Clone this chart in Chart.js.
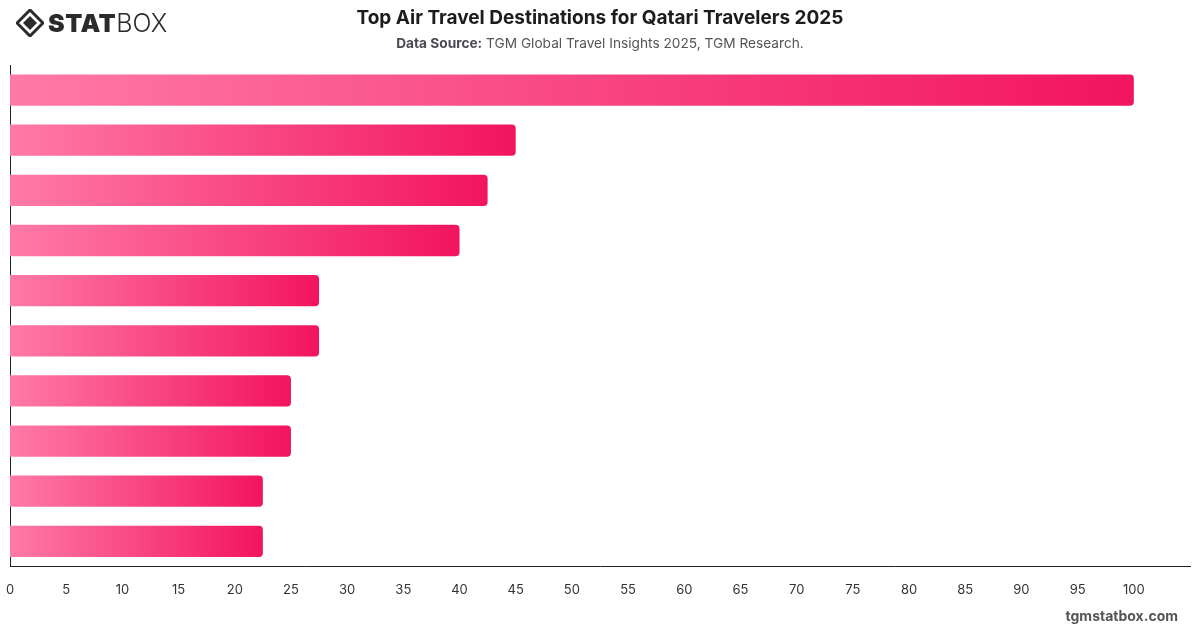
<!DOCTYPE html>
<html>
<head>
<meta charset="utf-8">
<script src="https://cdn.jsdelivr.net/npm/chart.js@4.4.1/dist/chart.umd.min.js"></script>
<style>
  body { margin: 0; background: #fff; font-family: Inter, "Noto Sans", sans-serif; }
  #wrap { position: relative; width: 1200px; height: 628px; overflow: hidden; }
  #logo { position: absolute; left: 16px; top: 8px; display: flex; align-items: center; }
  #logo .stat { font-weight: 900; font-size: 25px; color: #2b2b2b; letter-spacing: 0.5px; margin-left: 4px; }
  #logo .box { font-weight: 300; font-size: 25px; color: #2b2b2b; }
  #title { position: absolute; left: 0; width: 1200px; top: 6px; text-align: center; font-size: 19px; font-weight: 700; color: #1c1c1c; }
  #sub { position: absolute; left: 0; width: 1200px; top: 35px; text-align: center; font-size: 13.7px; color: #555; }
  #sub b { color: #4a4a55; }
  #foot { position: absolute; right: 22px; top: 607px; font-size: 14px; font-weight: 700; color: #555; }
  #chartBox { position: absolute; left: 0; top: 0; width: 1200px; height: 628px; }
</style>
</head>
<body>
<div id="wrap">
  <div id="chartBox"><canvas id="myChart"></canvas></div>
  <div id="logo">
    <svg width="28" height="28" viewBox="0 0 28 28">
      <polygon points="14,1 27,14 14,27 1,14" fill="none" stroke="#2b2b2b" stroke-width="3"/>
      <polygon points="14,7 21,14 14,21 7,14" fill="#2b2b2b"/>
    </svg>
    <span class="stat">STAT</span><span class="box">BOX</span>
  </div>
  <div id="title">Top Air Travel Destinations for Qatari Travelers 2025</div>
  <div id="sub"><b>Data Source:</b> TGM Global Travel Insights 2025, TGM Research.</div>
  <div id="foot">tgmstatbox.com</div>
</div>
<script>
'use strict';

// destination names are not printed in the picture, so ranks stand in
let categories = ['#1', '#2', '#3', '#4', '#5', '#6', '#7', '#8', '#9', '#10'];
let shares = [100, 45, 42.5, 40, 27.5, 27.5, 25, 25, 22.5, 22.5];
let tickValues = [0, 5, 10, 15, 20, 25, 30, 35, 40, 45, 50, 55, 60, 65, 70, 75, 80, 85, 90, 95, 100];

let ctx = document.getElementById('myChart').getContext('2d');

// each bar fades from light pink at 0 to deep pink at its own end
function barGradient(context) {
  let chart = context.chart;
  let xScale = chart.scales.x;
  if (!chart.chartArea || !xScale) {
    return '#f7447f';
  }
  let x0 = xScale.getPixelForValue(0);
  let x1 = xScale.getPixelForValue(shares[context.dataIndex]);
  if (x1 - x0 < 1) {
    x1 = x0 + 1;
  }
  let grad = chart.ctx.createLinearGradient(x0, 0, x1, 0);
  grad.addColorStop(0, '#ff7aa8');
  grad.addColorStop(1, '#f2145f');
  return grad;
}

let chartObject = {
  type: 'bar',
  data: {
    labels: categories,
    datasets: [{
      label: 'Share',
      data: shares,
      backgroundColor: barGradient,
      borderWidth: 0,
      borderRadius: { topRight: 4, bottomRight: 4, topLeft: 0, bottomLeft: 0 },
      borderSkipped: false,
      barPercentage: 0.78,
      categoryPercentage: 0.8
    }]
  },
  options: {
    indexAxis: 'y',
    responsive: true,
    maintainAspectRatio: false,
    animation: false,
    layout: {
      padding: { top: 65, left: 0, right: 10, bottom: 14 }
    },
    plugins: {
      legend: { display: false },
      tooltip: { enabled: false }
    },
    scales: {
      x: {
        min: 0,
        max: 105,
        afterBuildTicks: function (axis) {
          axis.ticks = tickValues.map(function (v) { return { value: v }; });
        },
        afterFit: function (axis) {
          axis.paddingLeft = 0;
        },
        grid: { display: false, drawTicks: false },
        border: { display: true, color: '#222', width: 1 },
        ticks: {
          color: '#333',
          padding: 16,
          maxRotation: 0,
          autoSkip: false,
          font: { family: 'Inter, "Noto Sans", sans-serif', size: 13 }
        }
      },
      y: {
        afterFit: function (axis) {
          axis.width = 10;
        },
        grid: { display: false, drawTicks: false },
        border: { display: true, color: '#222', width: 1 },
        ticks: { display: false }
      }
    }
  }
};

const myChart = new Chart(ctx, chartObject);
</script>
</body>
</html>
